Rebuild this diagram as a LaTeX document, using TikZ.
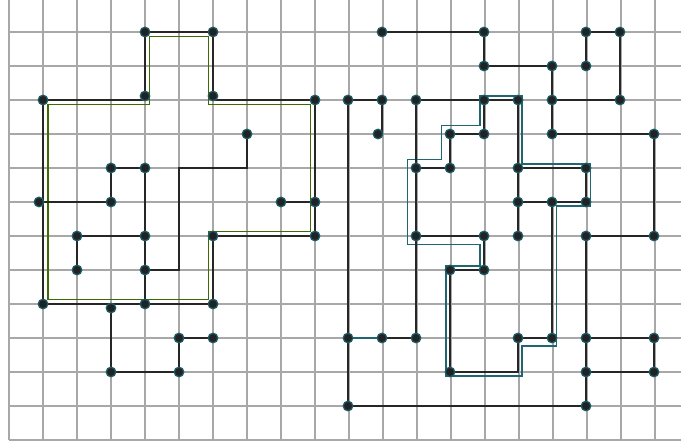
\documentclass[tikz,border=0pt]{standalone}
\definecolor{gridcol}{HTML}{A8A8A8}
\definecolor{edgecol}{HTML}{262626}
\definecolor{dotfill}{HTML}{222222}
\definecolor{dotring}{HTML}{1A5A66}
\definecolor{tealcol}{HTML}{1F6673}
\definecolor{greencol}{HTML}{3D6B00}
\pgfdeclarelayer{bg}
\pgfsetlayers{bg,main}
\begin{document}
\begin{tikzpicture}[x=1pt,y=-1pt,
  dot/.style={circle,fill=dotfill,draw=dotring,line width=1.3pt,inner sep=0pt,minimum size=9.5pt},
  link/.style={draw=edgecol,line width=1.8pt,line join=miter},
  gridline/.style={draw=gridcol,line width=1.4pt},
  greenring/.style={draw=greencol,line width=1.8pt,line join=miter},
  tealring/.style={draw=tealcol,line width=1.8pt,line join=miter},
  teallink/.style={draw=tealcol,line width=1.8pt}]
\useasboundingbox (0,0) rectangle (681,443);
% ---- nodes, left
\node[dot] (a1) at (145,32) {};
\node[dot] (a2) at (213,32) {};
\node[dot] (a3) at (145,96) {};
\node[dot] (a4) at (213,96) {};
\node[dot] (a5) at (43,100) {};
\node[dot] (a6) at (315,100) {};
\node[dot] (a7) at (247,134) {};
\node[dot] (a8) at (111,168) {};
\node[dot] (a9) at (145,168) {};
\node[dot] (a10) at (39,202) {};
\node[dot] (a11) at (111,202) {};
\node[dot] (a12) at (281,202) {};
\node[dot] (a13) at (315,202) {};
\node[dot] (a14) at (77,236) {};
\node[dot] (a15) at (145,236) {};
\node[dot] (a16) at (213,236) {};
\node[dot] (a17) at (315,236) {};
\node[dot] (a18) at (77,270) {};
\node[dot] (a19) at (145,270) {};
\node[dot] (a20) at (43,304) {};
\node[dot] (a21) at (111,308) {};
\node[dot] (a22) at (145,304) {};
\node[dot] (a23) at (213,304) {};
\node[dot] (a24) at (179,338) {};
\node[dot] (a25) at (213,338) {};
\node[dot] (a26) at (111,372) {};
\node[dot] (a27) at (179,372) {};
% ---- nodes, right
\node[dot] (b1) at (382,32) {};
\node[dot] (b2) at (484,32) {};
\node[dot] (b3) at (586,32) {};
\node[dot] (b4) at (620,32) {};
\node[dot] (b5) at (484,66) {};
\node[dot] (b6) at (552,66) {};
\node[dot] (b7) at (586,66) {};
\node[dot] (b8) at (348,100) {};
\node[dot] (b9) at (382,100) {};
\node[dot] (b10) at (416,100) {};
\node[dot] (b11) at (484,100) {};
\node[dot] (b12) at (518,100) {};
\node[dot] (b13) at (552,100) {};
\node[dot] (b14) at (620,100) {};
\node[dot] (b15) at (378,134) {};
\node[dot] (b16) at (450,134) {};
\node[dot] (b17) at (484,134) {};
\node[dot] (b18) at (552,134) {};
\node[dot] (b19) at (654,134) {};
\node[dot] (b20) at (416,168) {};
\node[dot] (b21) at (450,168) {};
\node[dot] (b22) at (518,168) {};
\node[dot] (b23) at (586,168) {};
\node[dot] (b24) at (518,202) {};
\node[dot] (b25) at (552,202) {};
\node[dot] (b26) at (586,202) {};
\node[dot] (b27) at (416,236) {};
\node[dot] (b28) at (484,236) {};
\node[dot] (b29) at (518,236) {};
\node[dot] (b30) at (586,236) {};
\node[dot] (b31) at (654,236) {};
\node[dot] (b32) at (450,270) {};
\node[dot] (b33) at (484,270) {};
\node[dot] (b34) at (348,338) {};
\node[dot] (b35) at (382,338) {};
\node[dot] (b36) at (416,338) {};
\node[dot] (b37) at (518,338) {};
\node[dot] (b38) at (552,338) {};
\node[dot] (b39) at (586,338) {};
\node[dot] (b40) at (654,338) {};
\node[dot] (b41) at (450,372) {};
\node[dot] (b42) at (586,372) {};
\node[dot] (b43) at (654,372) {};
\node[dot] (b44) at (348,406) {};
\node[dot] (b45) at (586,406) {};
% ---- corner coordinates
\coordinate (c1) at (145,100);
\coordinate (c2) at (213,100);
\coordinate (c3) at (247,168);
\coordinate (c4) at (179,168);
\coordinate (c5) at (179,270);
\coordinate (c6) at (382,134);
\coordinate (c7) at (518,372);
\coordinate (c8) at (111,304);
\begin{pgfonlayer}{bg}
\fill[white] (0,0) rectangle (681,443);
% grid
\foreach \i in {0,...,19} \draw[gridline] ({9+34*\i},0) -- ({9+34*\i},440);
\foreach \j in {0,...,12} \draw[gridline] (9,{32+34*\j}) -- (681,{32+34*\j});
% highlighted cycles
\draw[greenring] (48,104.5) -- (149.5,104.5) -- (149.5,36.5) -- (208.5,36.5) -- (208.5,104.5) -- (310.5,104.5) -- (310.5,231.5) -- (208.5,231.5) -- (208.5,299.5) -- (48,299.5) -- cycle;
\draw[tealring] (480,96) -- (522,96) -- (522,164) -- (590.5,164) -- (590.5,206) -- (556.5,206) -- (556.5,346) -- (522,346) -- (522,376) -- (446,376) -- (446,266) -- (480,266) -- (480,244.5) -- (407.5,244.5) -- (407.5,159.5) -- (441.5,159.5) -- (441.5,125.5) -- (480,125.5) -- cycle;
% left edges
\draw[link] (a5) -- (c1) -- (a3) -- (a1) -- (a2) -- (a4) -- (c2) -- (a6) -- (a13) -- (a17) -- (a16) -- (a23) -- (a22) -- (a20) -- (a5);
\draw[link] (a7) -- (c3) -- (c4) -- (c5) -- (a19);
\draw[link] (a8) -- (a9);
\draw[link] (a8) -- (a11);
\draw[link] (a10) -- (a11);
\draw[link] (a9) -- (a15) -- (a19) -- (a22);
\draw[link] (a14) -- (a15);
\draw[link] (a14) -- (a18);
\draw[link] (c8) -- (a21) -- (a26) -- (a27) -- (a24) -- (a25);
\draw[link] (a12) -- (a13);
% right edges
\draw[link] (b1) -- (b2) -- (b5) -- (b6) -- (b13) -- (b18) -- (b19) -- (b31) -- (b30);
\draw[link] (b3) -- (b4) -- (b14) -- (b13);
\draw[link] (b3) -- (b7);
\draw[link] (b8) -- (b9) -- (c6);
\draw[link] (b8) -- (b34) -- (b44) -- (b45) -- (b42) -- (b39) -- (b30);
\draw[teallink] (b34) -- (b35);
\draw[link] (b35) -- (b36) -- (b27) -- (b20) -- (b10) -- (b11);
\draw[link] (b11) -- (b12) -- (b22) -- (b23) -- (b26) -- (b25) -- (b38) -- (b37) -- (c7) -- (b41) -- (b32) -- (b33) -- (b28) -- (b27);
\draw[link] (b20) -- (b21) -- (b16) -- (b17) -- (b11);
\draw[link] (b22) -- (b24) -- (b29);
\draw[link] (b24) -- (b25);
\draw[link] (b39) -- (b40) -- (b43) -- (b42);
\end{pgfonlayer}
\end{tikzpicture}
\end{document}
